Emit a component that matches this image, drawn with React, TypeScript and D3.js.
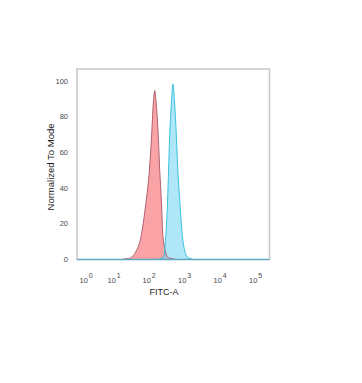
import { useEffect, useRef } from 'react';
import * as d3 from 'd3';

// log10 intensity vs. % of mode
const redX = [1.3, 1.45, 1.55, 1.65, 1.8, 1.94, 2.04, 2.1, 2.15, 2.19, 2.23, 2.29, 2.33, 2.38, 2.42, 2.55, 2.64, 2.75];
const redY = [0, 0.3, 1.3, 4, 12.5, 31.5, 50, 68.7, 87.6, 94.6, 87.6, 68.7, 50, 31.5, 12.5, 1.3, 0.3, 0];
const blueX = [2.3, 2.44, 2.5, 2.55, 2.58, 2.61, 2.66, 2.7, 2.75, 2.8, 2.84, 2.9, 2.97, 3.1, 3.25];
const blueY = [0, 1.3, 12.5, 31.5, 50, 68.7, 87.6, 98.3, 87.6, 68.7, 50, 31.5, 12.5, 1.3, 0];

const decades = [0, 1, 2, 3, 4, 5];
const yTicks = [0, 20, 40, 60, 80, 100];

const FONT = 'Liberation Sans, Arial, sans-serif';

const App = () => {
  const svgRef = useRef<SVGSVGElement>(null);

  useEffect(() => {
    if (!svgRef.current) return;
    const svg = d3.select(svgRef.current);
    svg.selectAll('*').remove();

    const width = 362;
    const height = 383;
    const frame = { left: 77, right: 269.5, top: 69, bottom: 260 };

    // biexponential-ish axis: the first decade is compressed
    const x = d3.scaleLinear().domain(decades).range([85, 113, 148, 183.5, 219, 254.5]);
    const y = d3.scaleLinear().domain([0, 100]).range([259, 81]);

    svg.attr('width', width).attr('height', height);

    const plot = svg.append('g');

    const area = d3
      .area<[number, number]>()
      .x((d) => x(d[0]))
      .y0(y(0))
      .y1((d) => y(d[1]))
      .curve(d3.curveMonotoneX);
    const line = d3
      .line<[number, number]>()
      .x((d) => x(d[0]))
      .y((d) => y(d[1]))
      .curve(d3.curveMonotoneX);

    const red = redX.map((v, i) => [v, redY[i]] as [number, number]);
    const blue = blueX.map((v, i) => [v, blueY[i]] as [number, number]);

    plot.append('path').datum(red).attr('d', area).attr('fill', '#f77c80').attr('fill-opacity', 0.7);
    plot.append('path').datum(blue).attr('d', area).attr('fill', '#6fd3f2').attr('fill-opacity', 0.55);
    plot
      .append('path')
      .datum(red)
      .attr('d', line)
      .attr('fill', 'none')
      .attr('stroke', '#b0606e')
      .attr('stroke-width', 1);
    plot
      .append('path')
      .datum(blue)
      .attr('d', line)
      .attr('fill', 'none')
      .attr('stroke', '#38c2dc')
      .attr('stroke-width', 1);

    // frame
    svg
      .append('path')
      .attr('d', `M${frame.left},${frame.bottom}V${frame.top}H${frame.right}V${frame.bottom}`)
      .attr('fill', 'none')
      .attr('stroke', '#c6c6c6')
      .attr('stroke-width', 1.5);
    svg
      .append('line')
      .attr('x1', frame.left)
      .attr('x2', frame.right)
      .attr('y1', frame.bottom - 0.5)
      .attr('y2', frame.bottom - 0.5)
      .attr('stroke', '#5fa9c0')
      .attr('stroke-width', 1.5);

    // y tick labels
    svg
      .append('g')
      .selectAll('text')
      .data(yTicks)
      .join('text')
      .attr('x', 68)
      .attr('y', (d) => y(d) + 2.8)
      .attr('text-anchor', 'end')
      .attr('font-family', FONT)
      .attr('font-size', 7.5)
      .attr('fill', '#4a4a4a')
      .text((d) => d);

    // x tick labels 10^n
    const xt = svg
      .append('g')
      .selectAll('text')
      .data(decades)
      .join('text')
      .attr('x', (d) => x(d) - 5.5)
      .attr('y', 283)
      .attr('font-family', FONT)
      .attr('font-size', 7.5)
      .attr('fill', '#4a4a4a');
    xt.append('tspan').text('10');
    xt.append('tspan')
      .attr('dx', 1)
      .attr('dy', -5.5)
      .attr('font-size', 7)
      .text((d) => d);

    svg
      .append('text')
      .attr('x', 164)
      .attr('y', 295)
      .attr('text-anchor', 'middle')
      .attr('font-family', FONT)
      .attr('font-size', 9)
      .attr('fill', '#222')
      .text('FITC-A');

    svg
      .append('text')
      .attr('transform', `translate(54,${167}) rotate(-90)`)
      .attr('text-anchor', 'middle')
      .attr('font-family', FONT)
      .attr('font-size', 9.5)
      .attr('fill', '#222')
      .text('Normalized To Mode');
  }, []);

  return <svg ref={svgRef} style={{ position: 'absolute', left: 0, top: 0, background: '#fff' }} />;
};

export default App;
